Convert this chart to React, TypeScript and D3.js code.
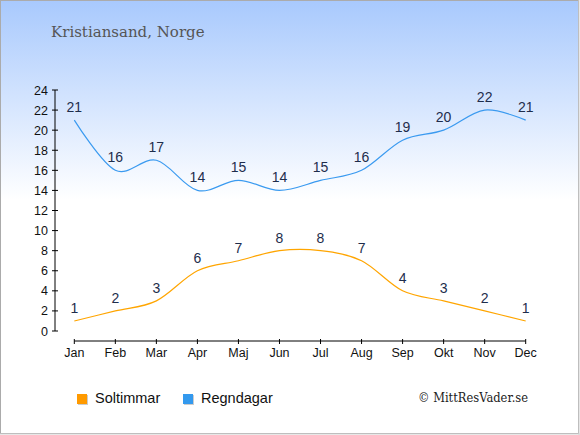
import React from "react";
import * as d3 from "d3";

const months = ["Jan", "Feb", "Mar", "Apr", "Maj", "Jun", "Jul", "Aug", "Sep", "Okt", "Nov", "Dec"];
const soltimmar = [1, 2, 3, 6, 7, 8, 8, 7, 4, 3, 2, 1];
const regndagar = [21, 16, 17, 14, 15, 14, 15, 16, 19, 20, 22, 21];
const yTicks = [0, 2, 4, 6, 8, 10, 12, 14, 16, 18, 20, 22, 24];
const title = "Kristiansand, Norge";
const legendLabels = ["Soltimmar", "Regndagar"];
const credit = "© MittResVader.se";

const W = 580;
const H = 435;
const ORANGE = "#ffa500";
const BLUE = "#3a9af0";
const sans = "'Liberation Sans', Arial, sans-serif";
const serif = "'DejaVu Serif', Georgia, serif";

export default function App() {
  const x = d3.scalePoint<string>().domain(months).range([74.3, 525.7]);
  const y = d3.scaleLinear().domain([0, 24]).range([331, 90]);
  const line = d3
    .line<number>()
    .x((_, i) => x(months[i]) as number)
    .y((d) => y(d))
    .curve(d3.curveCardinal.tension(0));

  const series = [
    { data: soltimmar, color: ORANGE },
    { data: regndagar, color: BLUE },
  ];

  return (
    <svg
      width={W}
      height={H}
      style={{ position: "fixed", left: 0, top: 0 }}
      xmlns="http://www.w3.org/2000/svg"
    >
      <defs>
        <linearGradient id="bg" x1="0" y1="0" x2="0" y2={H} gradientUnits="userSpaceOnUse">
          <stop offset="0" stopColor="#a8c9fd" />
          <stop offset={200 / H} stopColor="#ffffff" />
          <stop offset="1" stopColor="#ffffff" />
        </linearGradient>
      </defs>
      <rect x={0.5} y={0.5} width={W - 2} height={H - 2} fill="url(#bg)" stroke="#ababab" strokeWidth={1} />
      <line x1={W - 1} y1={0} x2={W - 1} y2={H} stroke="#d0d0d0" />
      <line x1={0} y1={H - 1} x2={W} y2={H - 1} stroke="#d0d0d0" />

      <text x={51} y={37} fontFamily={serif} fontSize={15} fill="#555">
        {title}
      </text>

      {/* Y axis */}
      <line x1={55} y1={y(24)} x2={55} y2={y(0)} stroke="#000" />
      {yTicks.map((t) => (
        <g key={t} transform={`translate(55,${y(t)})`}>
          <line x1={-3} x2={3} stroke="#000" />
          <text x={-7} dy="0.36em" textAnchor="end" fontFamily={sans} fontSize={12.5} fill="#111">
            {t}
          </text>
        </g>
      ))}

      {/* X axis */}
      <line x1={x("Jan")} y1={341} x2={x("Dec")} y2={341} stroke="#000" />
      {months.map((m) => (
        <g key={m} transform={`translate(${x(m)},341)`}>
          <line y1={-2} y2={3} stroke="#000" />
          <text y={15.5} textAnchor="middle" fontFamily={sans} fontSize={12.5} fill="#111">
            {m}
          </text>
        </g>
      ))}

      {series.map((s, si) => (
        <g key={si}>
          <path d={line(s.data) || ""} fill="none" stroke={s.color} strokeWidth={1.2} />
          {s.data.map((v, i) => (
            <text
              key={i}
              x={x(months[i])}
              y={y(v) - 8}
              textAnchor="middle"
              fontFamily={sans}
              fontSize={14}
              fill="#1e2d4c"
            >
              {v}
            </text>
          ))}
        </g>
      ))}

      {/* Legend */}
      {legendLabels.map((l, i) => {
        const lx = i === 0 ? 77 : 183;
        const c = i === 0 ? "#ff9a00" : "#3399ee";
        return (
          <g key={l}>
            <rect x={lx + 1} y={395} width={10} height={10} fill="#ccc" />
            <rect x={lx} y={394} width={10} height={10} fill={c} />
            <text x={lx + 18} y={403} fontFamily={sans} fontSize={14.5} fill="#111">
              {l}
            </text>
          </g>
        );
      })}

      <text x={418} y={402} fontFamily={serif} fontSize={13} fill="#222" textLength={110} lengthAdjust="spacingAndGlyphs">
        {credit}
      </text>
    </svg>
  );
}
